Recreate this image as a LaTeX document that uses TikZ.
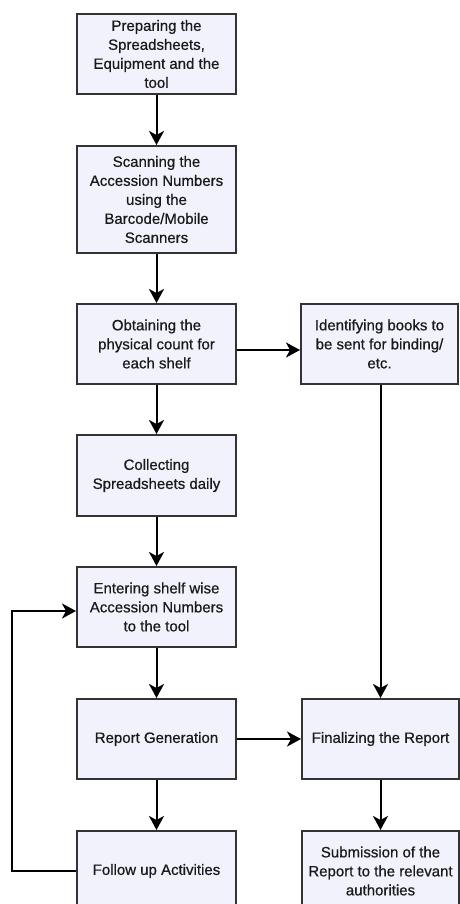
\documentclass[tikz,border=0pt]{standalone}
\usepackage{fontspec}
\setmainfont{Liberation Sans}
\newfontfamily\boxfont{Liberation Sans}[FakeBold=0.6]
\usetikzlibrary{arrows.meta}
\definecolor{boxfill}{HTML}{F2F2FC}
\definecolor{boxline}{HTML}{333333}
\definecolor{txt}{HTML}{1A1A1A}
\begin{document}
\begin{tikzpicture}[x=1pt,y=-1pt,
  stepbox/.style={draw=boxline, fill=boxfill, line width=2pt, rectangle,
    minimum width=159pt, minimum height=80pt, inner sep=2pt, align=center,
    text=txt, font=\boxfont\fontsize{15}{19}\selectfont},
  conn/.style={draw=black, line width=2pt, -{Stealth[length=14pt,width=15pt,inset=4pt]}}
]
\useasboundingbox (0,0) rectangle (459,904);
\fill[white] (0,0) rectangle (459,904);
\node[stepbox] (b1) at (156.5,54) {Preparing the\\Spreadsheets,\\Equipment and the\\tool};
\node[stepbox, minimum height=107pt] (b2) at (156.5,199.5) {Scanning the\\Accession Numbers\\using the\\Barcode/Mobile\\Scanners};
\node[stepbox] (b3) at (156.5,344) {Obtaining the\\physical count for\\each shelf};
\node[stepbox, minimum width=157pt] (idn) at (379.5,344) {Identifying books to\\be sent for binding/\\etc.};
\node[stepbox, minimum height=81pt] (b4) at (156.5,475.5) {Collecting\\Spreadsheets daily};
\node[stepbox] (b5) at (156.5,607) {Entering shelf wise\\Accession Numbers\\to the tool};
\node[stepbox] (b6) at (156.5,739) {Report Generation};
\node[stepbox, minimum width=157pt] (fin) at (380.5,739) {Finalizing the Report};
\node[stepbox] (b7) at (156.5,871) {Follow up Activities};
\node[stepbox, minimum width=157pt] (sub) at (380.5,871) {Submission of the\\Report to the relevant\\authorities};
\coordinate (loopL) at (12,871);
\draw[conn] (b1) -- (b2);
\draw[conn] (b2) -- (b3);
\draw[conn] ([yshift=-6pt]b3.east) -- ([yshift=-6pt]b3.east -| idn.west);
\draw[conn] (b3) -- (b4);
\draw[conn] (b4) -- (b5);
\draw[conn] (b5) -- (b6);
\draw[conn] (b6) -- (fin);
\draw[conn] (b6) -- (b7);
\draw[conn] (idn.south -| fin.north) -- (fin.north);
\draw[conn] (fin) -- (sub);
\draw[conn] (b7.west) -- (loopL) |- ([yshift=-4pt]b5.west);
\end{tikzpicture}
\end{document}
